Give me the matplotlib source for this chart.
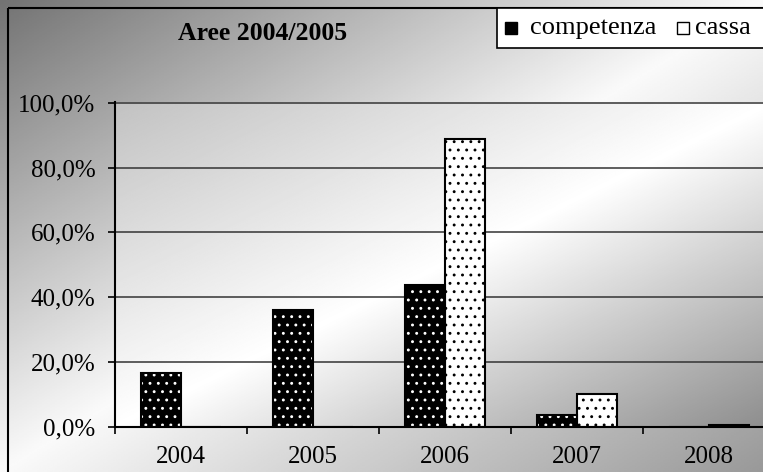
#!/usr/bin/env python3
"""Aree 2004/2005 - competenza vs cassa, bar chart with gradient background."""

import numpy as np
import matplotlib
matplotlib.use("Agg")
import matplotlib.pyplot as plt
from matplotlib.patches import Rectangle
from matplotlib.ticker import FixedLocator, FuncFormatter

# Data
YEARS = ["2004", "2005", "2006", "2007", "2008"]
COMPETENZA = [16.8, 36.1, 43.7, 3.7, 0.0]
CASSA = [0.0, 0.0, 88.9, 10.1, 0.6]
SERIES = ["competenza", "cassa"]
TITLE = "Aree 2004/2005"

W, H = 763, 472
plt.rcParams['font.family'] = ['Liberation Serif', 'DejaVu Serif']
plt.rcParams['hatch.linewidth'] = 0.9


def px(x, y):
    """pixel (from top-left) -> figure fraction"""
    return x / W, 1 - y / H


def gradient(n, lo, mid, hi):
    # diagonal ramp: dark top-left, white across the anti-diagonal, grey bottom-right
    xx, yy = np.meshgrid(np.linspace(0, 1, n), np.linspace(0, 1, n))
    s = (xx + yy) / 2
    g = np.where(s < 0.5, lo + (mid - lo) * s / 0.5, mid + (hi - mid) * (s - 0.5) / 0.5)
    return g


fig = plt.figure(figsize=(W / 100, H / 100), dpi=100)

# ===== figure background =====
bg = fig.add_axes([0, 0, 1, 1], zorder=-10)
bg.imshow(gradient(300, 0.45, 0.98, 0.60), cmap='gray', vmin=0, vmax=1,
          aspect='auto', extent=[0, 1, 0, 1], origin='upper')
bg.set_axis_off()

# outer frame
x0, y0 = px(8, 8)
fig.patches.append(Rectangle((x0, y0), 2, -2, transform=fig.transFigure,
                             fill=False, edgecolor='black', linewidth=1.5, zorder=5))

# ===== plot area =====
left, bottom = px(115, 427)
ax = fig.add_axes([left, bottom, 660 / W, 325 / H])
ax.set_facecolor('none')
ax.imshow(gradient(300, 0.76, 1.0, 0.55), cmap='gray', vmin=0, vmax=1,
          aspect='auto', extent=[0, 1, 0, 1], origin='upper',
          transform=ax.transAxes, zorder=0)

centers = np.arange(len(YEARS)) + 0.5
bw = 0.3

# competenza: black with white dots
ax.bar(centers - bw, COMPETENZA, width=bw, align='edge', color='black',
       edgecolor='white', hatch='..', linewidth=0, zorder=3)
ax.bar(centers - bw, COMPETENZA, width=bw, align='edge', fill=False,
       edgecolor='black', linewidth=1.5, zorder=4)
# cassa: white with black dots
ax.bar(centers, CASSA, width=bw, align='edge', color='white',
       edgecolor='black', hatch='..', linewidth=1.5, zorder=3)

ax.set_xlim(0, len(YEARS))
ax.set_ylim(0, 100.2)

ax.yaxis.set_major_locator(FixedLocator([0, 20, 40, 60, 80, 100]))
ax.yaxis.set_major_formatter(FuncFormatter(lambda v, p: f"{v:.1f}%".replace('.', ',')))
ax.grid(axis='y', color='#333333', linewidth=1.1, zorder=1)

ax.xaxis.set_major_locator(FixedLocator(np.arange(len(YEARS) + 1)))
ax.xaxis.set_major_formatter(FuncFormatter(lambda v, p: ''))
ax.set_xticks(centers, YEARS, minor=True)

ax.tick_params(axis='y', direction='out', length=5, width=1.2, pad=9, labelsize=18)
ax.tick_params(axis='x', which='major', direction='out', length=5, width=1.2)
ax.tick_params(axis='x', which='minor', length=0, pad=14, labelsize=18)

for side in ['top', 'right']:
    ax.spines[side].set_visible(False)
for side in ['left', 'bottom']:
    ax.spines[side].set_linewidth(1.5)
    ax.spines[side].set_zorder(5)

# ===== title =====
tx, ty = px(263, 33)
fig.text(tx, ty, TITLE, ha='center', va='center', fontsize=18.5, fontweight='bold')

# ===== legend =====
lx, ly = px(497, 48)
fig.patches.append(Rectangle((lx, ly), 1, 40 / H, transform=fig.transFigure,
                             facecolor='white', edgecolor='black', linewidth=1.2, zorder=6))
sq = 12
for (sx, tx_), name, fc in [((505, 530), SERIES[0], 'black'),
                            ((677, 695), SERIES[1], 'white')]:
    qx, qy = px(sx, 34)
    fig.patches.append(Rectangle((qx, qy), sq / W, sq / H, transform=fig.transFigure,
                                 facecolor=fc, edgecolor='black', linewidth=1, zorder=7))
    tx2, ty2 = px(tx_, 28)
    fig.text(tx2, ty2, name, ha='left', va='center', fontsize=19, zorder=8)

fig.savefig("out.png", dpi=100)
